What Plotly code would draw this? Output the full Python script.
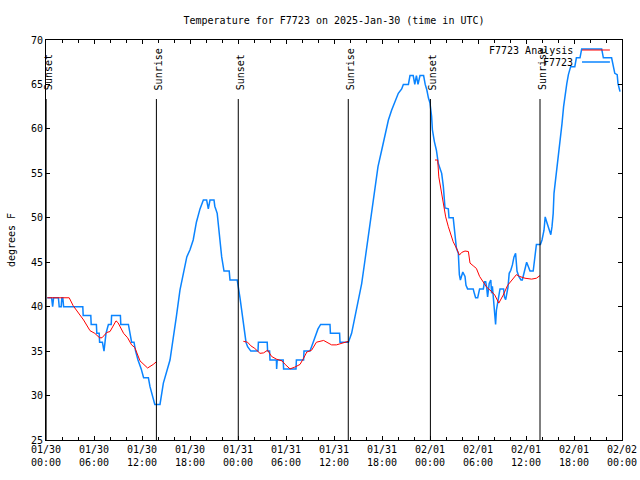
import pandas as pd
import plotly.graph_objects as go

START = pd.Timestamp("2025-01-30 00:00")

# Observed temperature (F7723), hours since 01/30 00:00 UTC
obs_hours = [0.15, 0.7, 0.83, 0.95, 1.55, 1.65, 1.9, 1.98, 2.1, 2.2, 4.6, 4.65, 5.6, 5.65, 6.3, 6.35,
             6.65, 6.7, 7.05, 7.25, 7.5, 7.8, 8.15, 8.2, 9.3, 9.35, 10.3, 10.5, 10.7, 11.0, 11.2, 11.5,
             11.9, 12.2, 12.8, 13.0, 13.3, 13.6, 14.25,
             14.67, 15.5, 15.9, 16.3, 16.75, 17.2, 17.6, 18.0, 18.4, 18.8, 19.25, 19.67, 20.08, 20.29,
             20.5, 21.0, 21.1, 21.4, 21.6, 21.96, 22.25, 22.9, 23.0, 23.9, 24.25, 24.7, 25.0, 25.2,
             25.6, 26.5, 26.55, 27.65, 27.7, 27.95, 28.0, 28.8, 28.83, 28.9, 29.65, 29.7, 31.25, 31.3,
             32.2, 32.25, 33.0, 33.4, 33.75, 34.0, 34.33, 35.5, 35.55, 36.7, 36.75, 37.8,
             38.2, 38.6, 39.04, 39.46, 39.875, 40.3, 40.7, 41.1, 41.5, 41.96, 42.4, 42.8, 43.2, 43.6,
             44.04, 44.46, 44.67, 45.3, 45.5, 45.9, 46.1, 46.3, 46.5, 46.75, 47.2, 47.4, 47.6, 47.8,
             48.0, 48.2, 48.3, 48.54, 48.8, 49.04, 49.25, 49.46, 49.67, 49.875, 50.29, 50.375, 50.9,
             51.04, 51.2, 51.3, 51.54, 51.67, 51.8, 52.0, 52.1, 52.375, 52.5, 52.7, 53.4, 53.54, 53.7,
             53.96, 54.04, 54.2, 54.67, 54.8, 54.96, 55.08, 55.2, 55.3, 55.4, 55.6, 55.7, 55.8, 56.0,
             56.1, 56.2, 56.3, 56.46, 56.6, 56.75, 57.2, 57.3, 57.46, 57.6, 57.75, 57.9, 58.1, 58.3,
             58.5, 58.7, 58.875, 59.1, 59.375, 59.54, 59.7, 59.875, 60.08, 60.3, 60.5, 60.9, 61.1,
             61.3, 61.8, 62.0, 62.25, 62.4, 62.6, 62.8, 63.1, 63.25, 63.4, 63.5, 63.7, 63.8, 64.0,
             64.25, 64.5, 64.7, 64.9, 65.1, 65.3, 65.58, 66.1, 66.3, 66.75, 66.96, 69.46, 69.67, 70.7,
             70.9, 71.1, 71.4, 71.5, 71.75]
obs_temps = [41, 41, 40, 41, 41, 40, 40, 41, 41, 40, 40, 39, 39, 38, 38, 37,
             37, 36, 36, 35, 37, 38, 38, 39, 39, 38, 38, 37, 36, 36, 35, 34,
             33, 32, 32, 31, 30, 29, 29,
             31.4, 34, 36.3, 38.9, 41.9, 44.1, 45.6, 46.4, 47.5, 49.5, 51, 52, 52, 51,
             52, 52, 51.3, 50.5, 48.6, 45.6, 44, 44, 43, 43, 41, 38, 36, 35.5,
             35, 35, 36, 36, 35, 35, 34, 34, 33, 34, 34, 33, 33, 34,
             34, 35, 35, 36, 37, 37.5, 38, 38, 37, 37, 36, 36,
             37, 38.9, 40.75, 42.6, 45.25, 47.9, 50.5, 53.1, 55.75, 57.6, 59.5, 61, 62.1, 63.1,
             64, 64.5, 65, 65, 66, 66, 65, 66, 65, 66, 66, 65, 64.4, 63.5,
             62.9, 61.4, 59.9, 58.6, 57.6, 56.1, 55.4, 55, 53.5, 51.1, 51, 50, 50,
             48.6, 47.1, 46.6, 46, 43.6, 43, 43.6, 43.9, 43.4, 42.4, 42, 42, 41.5, 41,
             41, 41.5, 42, 42, 42.8, 42.8, 42.2, 41.1, 42, 42.6, 43, 41.5, 42.3, 40.4,
             38.9, 38, 39.6, 40.6, 41.5, 42, 42, 41.1, 40.8, 41.5, 42.2, 43.75, 44.1, 44.7,
             45.6, 46, 44, 43.4, 43, 43, 43.6, 43.9, 45, 44.5, 44, 44, 45.6,
             47, 47, 47.5, 48.6, 50.1, 49.5, 49, 48.1, 49, 50.5, 52.75, 54.25, 55, 56.5,
             58.75, 60.6, 62.5, 64, 65.1, 66.1, 67, 67, 68, 68, 69, 69, 68, 68,
             67.2, 66.25, 66.1, 65.1, 64.2]

# Analysis temperature (F7723 Analysis); None separates segments
ana_hours = [0.17, 2.9, 3.4, 4.0, 4.7, 5.5, 6.1, 6.7, 7.0, 7.6, 8.0, 8.75, 9.0, 9.7, 10.2, 10.7,
             11.1, 11.75, 12.7, 13.4, 13.8, None,
             24.67, 25.2, 25.6, 26.1, 26.75, 27.2, 27.7, 28.2, 28.8, 29.5, 29.9, 30.5, 31.1, 31.75,
             32.2, 32.6, 33.2, 33.8, 34.7, 35.1, 35.7, 36.3, 37.2, 37.8, None,
             48.625, 48.96, 49.1, 49.375, 49.67, 49.96, 50.29, 50.6, 50.9, 51.3, 51.67, 51.96, 52.375,
             52.8, 53.0, 53.4, 53.8, 54.2, 54.67, 55.08, 55.7, 56.1, 56.6, 57.15, 57.7, 58.3, 58.8,
             59.2, 59.875, 60.7, 61.3, 61.75]
ana_temps = [41, 41, 40.1, 39.4, 38.5, 37.3, 37.0, 36.5, 36.5, 37.1, 37.2, 38.4, 38.2, 37.0, 36.5, 35.7,
             35.4, 33.9, 33.1, 33.5, 33.8, None,
             36.1, 36.0, 35.6, 35.3, 34.75, 34.8, 35.1, 34.4, 34.1, 33.9, 33.5, 33.0, 33.2, 33.5,
             34.2, 34.9, 35.1, 36.0, 36.2, 36.0, 35.7, 35.7, 35.9, 36.1, None,
             56.5, 56.5, 54.6, 53.1, 51.25, 50.1, 49.0, 48.25, 47.3, 46.6, 45.8, 46.1, 46.26,
             46.2, 44.9, 44.6, 44.3, 43.4, 42.8, 42.2, 41.7, 41.3, 40.4, 41.3, 42.4, 43.0, 43.6,
             43.4, 43.2, 43.1, 43.2, 43.5]

# Sun events
sun_times = ["2025-01-30 00:01", "2025-01-30 13:48", "2025-01-31 00:02",
             "2025-01-31 13:47", "2025-02-01 00:03", "2025-02-01 13:45"]
sun_labels = ["Sunset", "Sunrise", "Sunset", "Sunrise", "Sunset", "Sunrise"]

# X tick labels
tick_times = ["2025-01-30 00:00", "2025-01-30 06:00", "2025-01-30 12:00", "2025-01-30 18:00",
              "2025-01-31 00:00", "2025-01-31 06:00", "2025-01-31 12:00", "2025-01-31 18:00",
              "2025-02-01 00:00", "2025-02-01 06:00", "2025-02-01 12:00", "2025-02-01 18:00",
              "2025-02-02 00:00"]
tick_labels = ["01/30<br>00:00", "01/30<br>06:00", "01/30<br>12:00", "01/30<br>18:00",
               "01/31<br>00:00", "01/31<br>06:00", "01/31<br>12:00", "01/31<br>18:00",
               "02/01<br>00:00", "02/01<br>06:00", "02/01<br>12:00", "02/01<br>18:00",
               "02/02<br>00:00"]

FONT = "DejaVu Sans Mono"
BLUE = "#0A84FF"
RED = "#FF0000"


def to_time(hours):
    return [None if h is None else START + pd.Timedelta(hours=h) for h in hours]


fig = go.Figure()
fig.add_trace(go.Scatter(x=to_time(obs_hours), y=obs_temps, mode="lines", name="F7723",
                         line=dict(color=BLUE, width=1.5), showlegend=False))
fig.add_trace(go.Scatter(x=to_time(ana_hours), y=ana_temps, mode="lines", name="F7723 Analysis",
                         line=dict(color=RED, width=1), connectgaps=False, showlegend=False))

for t, lab in zip(sun_times, sun_labels):
    fig.add_shape(type="line", xref="x", yref="paper", x0=t, x1=t, y0=0, y1=0.8525,
                  line=dict(color="black", width=1))
    fig.add_annotation(x=pd.Timestamp(t) + pd.Timedelta(minutes=15), xref="x", y=0.87, yref="paper",
                       text=lab, textangle=-90, showarrow=False, xanchor="center", yanchor="bottom",
                       font=dict(family=FONT, size=10, color="black"))

# Legend (text on the left, line sample on the right)
legend_items = [("F7723 Analysis", RED, 1, 0.975), ("F7723", BLUE, 1.5, 0.945)]
for name, col, w, yy in legend_items:
    fig.add_annotation(x=0.919, y=yy, xref="paper", yref="paper", text=name, showarrow=False,
                       xanchor="right", yanchor="middle",
                       font=dict(family=FONT, size=10, color="black"))
    fig.add_shape(type="line", xref="paper", yref="paper", x0=0.9306, x1=0.979, y0=yy, y1=yy,
                  line=dict(color=col, width=w))

fig.update_layout(
    width=640, height=480,
    margin=dict(l=46, r=18, t=40, b=40, autoexpand=False),
    paper_bgcolor="white", plot_bgcolor="white",
    font=dict(family=FONT, size=10, color="black"),
    title=dict(text="Temperature for F7723 on 2025-Jan-30 (time in UTC)",
               x=0.5, xref="paper", xanchor="center",
               y=1 - 20.5 / 480, yref="container", yanchor="middle",
               font=dict(family=FONT, size=10, color="black")),
    showlegend=False,
)
fig.update_xaxes(
    range=[tick_times[0], tick_times[-1]],
    tickmode="array", tickvals=tick_times, ticktext=tick_labels,
    ticks="inside", ticklen=4, tickcolor="black",
    minor=dict(ticks="inside", ticklen=3, dtick=2 * 3600 * 1000, tick0=tick_times[0],
               tickcolor="black", showgrid=False),
    showline=True, linecolor="black", linewidth=1, mirror="ticks",
    showgrid=False, zeroline=False, automargin=False,
    tickfont=dict(family=FONT, size=10, color="black"),
)
fig.update_yaxes(
    range=[25, 70], tickmode="linear", tick0=25, dtick=5,
    ticks="inside", ticklen=4, tickcolor="black",
    showline=True, linecolor="black", linewidth=1, mirror="ticks",
    showgrid=False, zeroline=False, automargin=False,
    title=dict(text="degrees F", standoff=13, font=dict(family=FONT, size=10, color="black")),
    tickfont=dict(family=FONT, size=10, color="black"),
)

fig.write_html("out.html", config={"displayModeBar": False},
               post_script="document.body.style.margin='0';document.body.style.padding='0';")
